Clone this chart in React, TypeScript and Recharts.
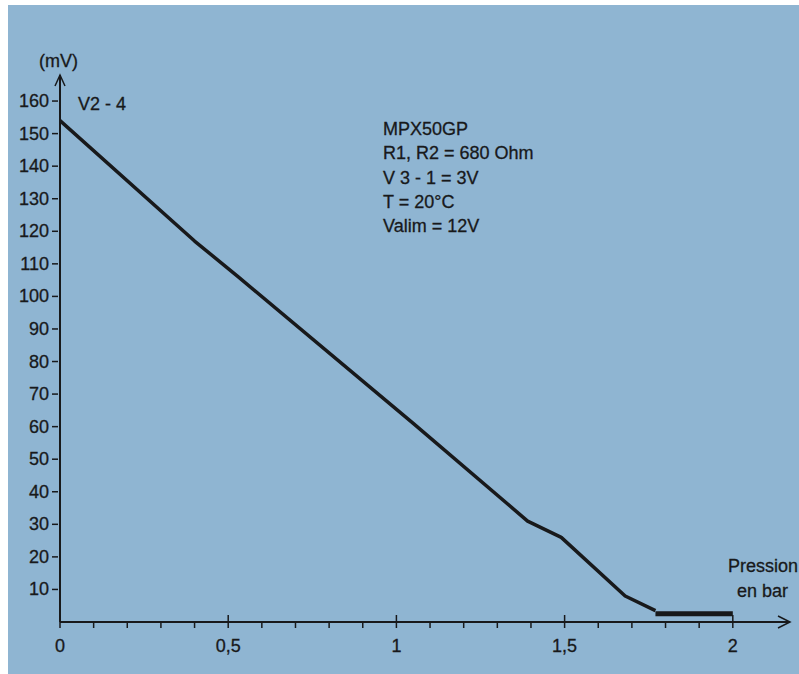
import { LineChart, Line, XAxis, YAxis, ReferenceDot } from 'recharts';

// Axes
const X_TICKS = [0, 0.1, 0.2, 0.3, 0.4, 0.5, 0.6, 0.7, 0.8, 0.9, 1, 1.1, 1.2, 1.3, 1.4, 1.5, 1.6, 1.7, 1.8, 1.9, 2];
const X_MAJOR = [0, 0.5, 1, 1.5, 2];
const X_MAJOR_LABELS = ['0', '0,5', '1', '1,5', '2'];
const Y_TICKS = [10, 20, 30, 40, 50, 60, 70, 80, 90, 100, 110, 120, 130, 140, 150, 160];
const X_MAX = 2.17;
const Y_MAX = 168;

// Courbe V2-4 (mV) en fonction de la pression (bar)
const CURVE_BAR = [0, 0.4, 0.53, 1.05, 1.39, 1.49, 1.68, 1.77];
const CURVE_MV = [154, 117, 106, 61, 31, 26, 8, 3.5];
const PLATEAU_BAR = [1.77, 2];
const PLATEAU_MV = [2.5, 2.5];

const NOTES = ['MPX50GP', 'R1, R2 = 680 Ohm', 'V 3 - 1 = 3V', 'T = 20°C', 'Valim = 12V'];

const curve = CURVE_BAR.map((bar, i) => ({ bar, mv: CURVE_MV[i] }));
const plateau = PLATEAU_BAR.map((bar, i) => ({ bar, mv: PLATEAU_MV[i] }));

const INK = '#18191b';
const FONT = '"Liberation Sans", Arial, sans-serif';

function XTick(props: any) {
  const { x, y, payload } = props;
  const idx = X_MAJOR.findIndex((m) => Math.abs(m - payload.value) < 1e-6);
  const major = idx >= 0;
  return (
    <g>
      <line x1={x} x2={x} y1={major ? y - 7 : y + 1} y2={y + 6} stroke={INK} strokeWidth={1.5} />
      {major && (
        <text x={x} y={y + 30} textAnchor="middle" fill={INK} stroke={INK} strokeWidth={0.3} fontSize={18} fontFamily={FONT}>
          {X_MAJOR_LABELS[idx]}
        </text>
      )}
    </g>
  );
}

function YTick(props: any) {
  const { x, y, payload } = props;
  return (
    <g>
      <line x1={x - 8} x2={x - 2} y1={y} y2={y} stroke={INK} strokeWidth={1.5} />
      <text x={x - 11} y={y + 6} textAnchor="end" fill={INK} stroke={INK} strokeWidth={0.3} fontSize={18} fontFamily={FONT}>
        {payload.value}
      </text>
    </g>
  );
}

function ArrowRight(props: any) {
  const { cx, cy } = props;
  return (
    <polyline
      points={`${cx - 12},${cy - 6} ${cx},${cy} ${cx - 12},${cy + 6}`}
      fill="none"
      stroke={INK}
      strokeWidth={1.5}
    />
  );
}

function ArrowUp(props: any) {
  const { cx, cy } = props;
  return (
    <polyline
      points={`${cx - 5},${cy + 11} ${cx},${cy} ${cx + 5},${cy + 11}`}
      fill="none"
      stroke={INK}
      strokeWidth={1.5}
    />
  );
}

export default function App() {
  return (
    <div style={{ position: 'absolute', left: 0, top: 0, width: 799, height: 674, background: '#ffffff', overflow: 'hidden' }}>
      <div style={{ position: 'absolute', left: 8, top: 5, width: 791, height: 669, background: '#8fb5d2' }} />
      <div style={{ position: 'absolute', left: 0, top: 0 }}>
        <LineChart width={799} height={674} margin={{ top: 75, right: 9, bottom: 22, left: 0 }}>
          <XAxis
            type="number"
            dataKey="bar"
            domain={[0, X_MAX]}
            ticks={X_TICKS}
            allowDataOverflow
            height={30}
            tickSize={0}
            tickMargin={0}
            tick={<XTick />}
            axisLine={{ stroke: INK, strokeWidth: 2 }}
            tickLine={false}
          />
          <YAxis
            type="number"
            domain={[0, Y_MAX]}
            ticks={Y_TICKS}
            allowDataOverflow
            width={60}
            tickSize={0}
            tickMargin={0}
            tick={<YTick />}
            axisLine={{ stroke: INK, strokeWidth: 2 }}
            tickLine={false}
          />
          <Line
            data={curve}
            dataKey="mv"
            type="linear"
            stroke={INK}
            strokeWidth={3.5}
            strokeLinejoin="round"
            dot={false}
            isAnimationActive={false}
          />
          <Line
            data={plateau}
            dataKey="mv"
            type="linear"
            stroke={INK}
            strokeWidth={5}
            dot={false}
            isAnimationActive={false}
          />
          <ReferenceDot x={X_MAX} y={0} r={0} ifOverflow="visible" shape={<ArrowRight />} />
          <ReferenceDot x={0} y={Y_MAX} r={0} ifOverflow="visible" shape={<ArrowUp />} />
        </LineChart>
      </div>
      <svg
        width={799}
        height={674}
        style={{ position: 'absolute', left: 0, top: 0, pointerEvents: 'none' }}
        fontFamily={FONT}
        fill={INK}
        stroke={INK}
        strokeWidth={0.3}
      >
        <text x={39} y={67} fontSize={18}>(mV)</text>
        <text x={78} y={110} fontSize={18}>V2 - 4</text>
        {NOTES.map((t, i) => (
          <text key={t} x={383} y={135 + i * 24.3} fontSize={18}>
            {t}
          </text>
        ))}
        <text x={728} y={572} fontSize={18}>Pression</text>
        <text x={737} y={597} fontSize={18}>en bar</text>
      </svg>
    </div>
  );
}
